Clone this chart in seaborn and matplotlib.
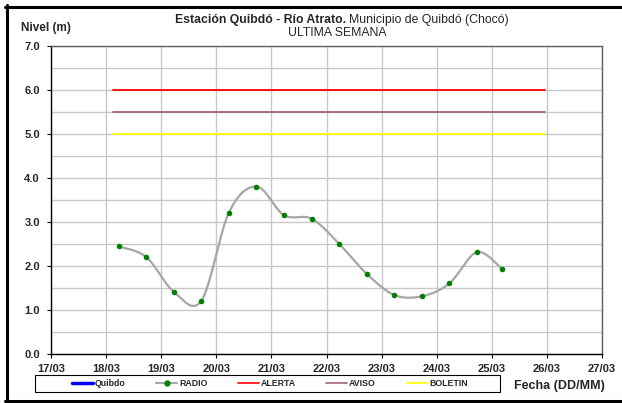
import numpy as np
import pandas as pd
import matplotlib
matplotlib.use("Agg")
import matplotlib.pyplot as plt
import matplotlib.dates as mdates
from matplotlib.ticker import MultipleLocator, FormatStrFormatter
from matplotlib.lines import Line2D
from matplotlib.patches import Rectangle
import seaborn as sns

# ---------------- data ----------------
fecha_radio = [
    "2024-03-18 05:30", "2024-03-18 17:30", "2024-03-19 05:30", "2024-03-19 17:30",
    "2024-03-20 05:30", "2024-03-20 17:30", "2024-03-21 05:30", "2024-03-21 17:30",
    "2024-03-22 05:30", "2024-03-22 17:30", "2024-03-23 05:30", "2024-03-23 17:30",
    "2024-03-24 05:30", "2024-03-24 17:30", "2024-03-25 04:30",
]
nivel_radio = [2.44, 2.20, 1.41, 1.21, 3.21, 3.80, 3.15, 3.07,
               2.50, 1.82, 1.34, 1.31, 1.60, 2.31, 1.93]

umbral_fechas = ["2024-03-18 03:00", "2024-03-25 23:00"]
nivel_alerta = 6.0
nivel_aviso = 5.5
nivel_boletin = 5.0

x_inicio = "2024-03-17"
x_fin = "2024-03-27"
y_min, y_max = 0.0, 7.0

# ---------------- style ----------------
sns.set_theme(style="whitegrid")
plt.rcParams['font.family'] = ['Liberation Sans', 'DejaVu Sans']

W, H = 622, 403
fig = plt.figure(figsize=(W / 100, H / 100), dpi=100)
ax = fig.add_axes([51 / W, 1 - 354 / H, (602 - 51) / W, (354 - 45.5) / H])
ax.set_facecolor("white")

# smooth (Excel-like Bezier / Catmull-Rom) curve through the RADIO points
xs = mdates.date2num(pd.to_datetime(fecha_radio))
ys = np.asarray(nivel_radio, dtype=float)
pts = np.column_stack([xs, ys])
pad = np.vstack([pts[0], pts, pts[-1]])
cx, cy = [], []
t = np.linspace(0, 1, 40)[:, None]
for i in range(len(pts) - 1):
    p0, p1, p2, p3 = pad[i], pad[i + 1], pad[i + 2], pad[i + 3]
    c1 = p1 + (p2 - p0) / 6.0
    c2 = p2 - (p3 - p1) / 6.0
    seg = ((1 - t) ** 3) * p1 + 3 * ((1 - t) ** 2) * t * c1 + 3 * (1 - t) * t ** 2 * c2 + t ** 3 * p2
    cx.extend(seg[:, 0]); cy.extend(seg[:, 1])
curve = pd.DataFrame({"x": cx, "y": cy})

sns.lineplot(data=curve, x="x", y="y", ax=ax, color="#A6A6A6", lw=1.6,
             sort=False, estimator=None, zorder=3)
radio = pd.DataFrame({"x": xs, "y": ys})
sns.scatterplot(data=radio, x="x", y="y", ax=ax, color="#008000", s=16,
                edgecolor="#008000", linewidth=0, zorder=4)

# threshold lines
ux = mdates.date2num(pd.to_datetime(umbral_fechas))
for nivel, col in [(nivel_alerta, "#FF0000"), (nivel_aviso, "#A06868"), (nivel_boletin, "#FFFF00")]:
    sns.lineplot(x=ux, y=[nivel, nivel], ax=ax, color=col, lw=1.3, zorder=2)

# axes
ax.set_xlim(mdates.date2num(pd.Timestamp(x_inicio)), mdates.date2num(pd.Timestamp(x_fin)))
ax.set_ylim(y_min, y_max)
ax.xaxis.set_major_locator(mdates.DayLocator())
ax.xaxis.set_major_formatter(mdates.DateFormatter("%d/%m"))
ax.yaxis.set_major_locator(MultipleLocator(1.0))
ax.yaxis.set_minor_locator(MultipleLocator(0.5))
ax.yaxis.set_major_formatter(FormatStrFormatter("%.1f"))
ax.set_xlabel("")
ax.set_ylabel("")

ax.grid(False)
ax.grid(axis="x", which="major", color="#C8C8C8", lw=1.0)
ax.grid(axis="y", which="both", color="#C8C8C8", lw=1.0)
ax.set_axisbelow(True)

ax.tick_params(axis="both", which="major", length=3, width=0.8, color="black",
               labelsize=8, bottom=True, left=True)
ax.tick_params(axis="y", pad=5)
ax.tick_params(axis="x", pad=4)
ax.tick_params(which="minor", length=0)
for lab in ax.get_xticklabels() + ax.get_yticklabels():
    lab.set_fontweight("bold")

for s in ["left", "bottom"]:
    ax.spines[s].set_color("black")
    ax.spines[s].set_linewidth(1.0)
for s in ["top", "right"]:
    ax.spines[s].set_color("#606060")
    ax.spines[s].set_linewidth(1.0)

# legend
handles = [
    Line2D([], [], color="#0000FF", lw=2.5, label="Quibdo"),
    Line2D([], [], color="#A6A6A6", lw=1.5, marker="o", mfc="#008000",
           mec="#008000", ms=3.5, label="RADIO"),
    Line2D([], [], color="#FF0000", lw=1.2, label="ALERTA"),
    Line2D([], [], color="#A06868", lw=1.2, label="AVISO"),
    Line2D([], [], color="#FFFF00", lw=1.2, label="BOLETIN"),
]
fig.add_artist(Rectangle((35 / W, 1 - 392 / H), 465 / W, 17 / H,
                         transform=fig.transFigure, facecolor="white",
                         edgecolor="black", lw=0.8, zorder=5))
leg = fig.legend(handles=handles, loc="center",
                 bbox_to_anchor=((71 + 469) / 2 / W, 1 - 383.5 / H),
                 ncol=5, prop={"size": 6.3, "weight": "bold"},
                 frameon=False, handlelength=2.4, handletextpad=0.2,
                 columnspacing=3.5, borderpad=0, borderaxespad=0, numpoints=1)
leg.set_zorder(6)

# texts
fig.text(46 / W, 1 - 28 / H, "Nivel (m)", ha="center", va="center",
         fontsize=8.5, fontweight="bold")
fig.text(346 / W, 1 - 20 / H, "Estación Quibdó - Río Atrato.", ha="right",
         va="center", fontsize=8.8, fontweight="bold")
fig.text(349 / W, 1 - 20 / H, "Municipio de Quibdó (Chocó)", ha="left",
         va="center", fontsize=8.8)
fig.text(337 / W, 1 - 33 / H, "ULTIMA SEMANA", ha="center", va="center",
         fontsize=8.8)
fig.text(605 / W, 1 - 386 / H, "Fecha (DD/MM)", ha="right", va="center",
         fontsize=9, fontweight="bold")

# outer border (top, left, bottom)
fig.add_artist(Line2D([5 / W, 1], [1 - 6.5 / H] * 2, transform=fig.transFigure,
                      color="black", lw=2.2))
fig.add_artist(Line2D([6.5 / W] * 2, [1 - 5 / H, 0], transform=fig.transFigure,
                      color="black", lw=2.2))
fig.add_artist(Line2D([5 / W, 1], [2 / H] * 2, transform=fig.transFigure,
                      color="black", lw=2.2))

fig.savefig("out.png", dpi=100)
